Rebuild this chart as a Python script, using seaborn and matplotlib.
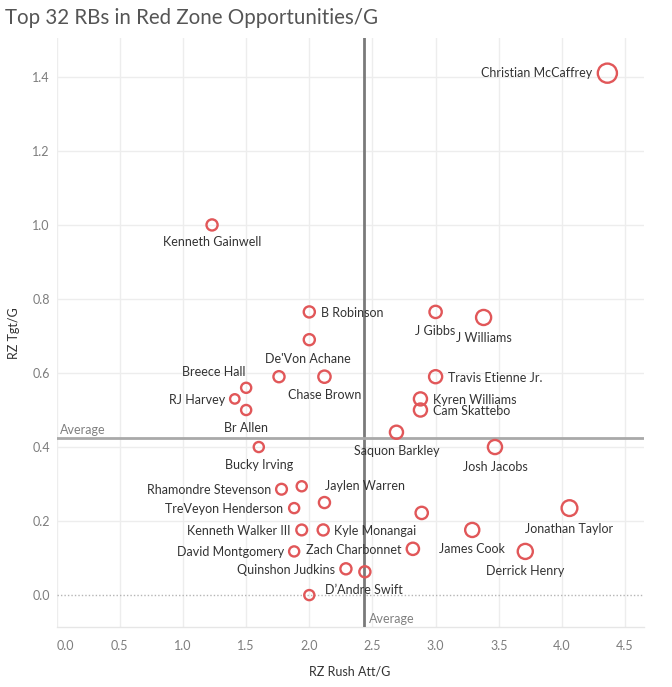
import numpy as np
import pandas as pd
import matplotlib
matplotlib.use("Agg")
import matplotlib.pyplot as plt
import seaborn as sns

# ---------------- data ----------------
players = [
    "Christian McCaffrey", "Kenneth Gainwell", "B Robinson", "J Gibbs", "J Williams",
    "De'Von Achane", "RB 7", "Chase Brown", "Travis Etienne Jr.", "Breece Hall",
    "RJ Harvey", "Kyren Williams", "Br Allen", "Cam Skattebo", "Saquon Barkley",
    "Bucky Irving", "Josh Jacobs", "Rhamondre Stevenson", "RB 19", "Jaylen Warren",
    "TreVeyon Henderson", "RB 22", "Jonathan Taylor", "Kenneth Walker III", "Kyle Monangai",
    "James Cook", "David Montgomery", "Zach Charbonnet", "Derrick Henry", "Quinshon Judkins",
    "D\u2019Andre Swift", "RB 32",
]
rz_rush_att_g = [
    4.36, 1.23, 2.00, 3.00, 3.38,
    2.00, 1.76, 2.12, 3.00, 1.50,
    1.41, 2.88, 1.50, 2.88, 2.69,
    1.60, 3.47, 1.78, 1.94, 2.12,
    1.88, 2.89, 4.06, 1.94, 2.11,
    3.29, 1.88, 2.82, 3.71, 2.29,
    2.44, 2.00,
]
rz_tgt_g = [
    1.41, 1.00, 0.765, 0.765, 0.75,
    0.69, 0.59, 0.59, 0.59, 0.56,
    0.53, 0.53, 0.50, 0.50, 0.44,
    0.40, 0.40, 0.286, 0.294, 0.25,
    0.235, 0.222, 0.235, 0.176, 0.176,
    0.176, 0.118, 0.125, 0.118, 0.071,
    0.063, 0.0,
]
rz_opps = [
    52, 17, 17, 21, 32,
    17, 17, 21, 24, 14,
    12, 24, 14, 24, 24,
    14, 28, 16, 14, 17,
    14, 21, 35, 16, 17,
    28, 14, 21, 32, 17,
    17, 14,
]
shown_labels = [
    "Christian McCaffrey", "Kenneth Gainwell", "B Robinson", "J Gibbs", "J Williams",
    "De'Von Achane", None, "Chase Brown", "Travis Etienne Jr.", "Breece Hall",
    "RJ Harvey", "Kyren Williams", "Br Allen", "Cam Skattebo", "Saquon Barkley",
    "Bucky Irving", "Josh Jacobs", "Rhamondre Stevenson", None, "Jaylen Warren",
    "TreVeyon Henderson", None, "Jonathan Taylor", "Kenneth Walker III", "Kyle Monangai",
    "James Cook", "David Montgomery", "Zach Charbonnet", "Derrick Henry", "Quinshon Judkins",
    "D\u2019Andre Swift", None,
]

# label placement (style): (ha, dx px, dy px downward)
label_place = [
    ("right", -15, 0), ("center", 0, 17.5), ("left", 11.5, 1.5), ("center", 0, 19.5), ("center", 0, 20.5),
    ("center", -1, 19.5), None, ("center", 0, 18.5), ("left", 12.5, 1.5), ("center", -32, -15.5),
    ("right", -9.5, 1), ("left", 12.5, 1), ("center", 0, 17.5), ("left", 12.5, 0.5), ("center", 0, 18.5),
    ("center", 0, 17.5), ("center", 0, 20), ("right", -10.5, 0.5), None, ("left", 0.5, -16.5),
    ("right", -11.5, 1.3), None, ("center", 0, 20.5), ("right", -11.5, 1.5), ("left", 10.5, 1.5),
    ("center", 0, 19.5), ("right", -9.5, 0.5), ("right", -11.5, 1.5), ("center", 0, 20), ("right", -10.5, 1.5),
    ("center", -1, 18), None,
]

df = pd.DataFrame({
    "player": players,
    "RZ Rush Att/G": rz_rush_att_g,
    "RZ Tgt/G": rz_tgt_g,
    "rz_opps": rz_opps,
})

FONT = "Lato"
RED = "#E15759"

W, H = 672, 687
fig = plt.figure(figsize=(W / 100, H / 100), dpi=100)
L, R, B, T = 56.7, 644, 627.3, 38
ax = fig.add_axes([L / W, 1 - B / H, (R - L) / W, (B - T) / H])

sns.scatterplot(
    data=df, x="RZ Rush Att/G", y="RZ Tgt/G", size="rz_opps",
    sizes=(46, 190), size_norm=(12, 52), legend=False, ax=ax,
    color=RED, linewidth=1.7, zorder=5,
)
for coll in ax.collections:
    coll.set_facecolor("none")
    coll.set_edgecolor(RED)

ax.set_xlim(0, 4.65)
ax.set_ylim(-0.087, 1.505)
ax.set_xticks(np.arange(0, 4.51, 0.5))
ax.set_yticks(np.arange(0, 1.41, 0.2))
ax.set_xticklabels([f"{v:.1f}" for v in np.arange(0, 4.51, 0.5)])
ax.set_yticklabels([f"{v:.1f}" for v in np.arange(0, 1.41, 0.2)])
ax.set_xlabel("")
ax.set_ylabel("")

ax.grid(True, color="#ededed", linewidth=1.0, zorder=0)
ax.set_axisbelow(True)
for s in ["top", "right", "left"]:
    ax.spines[s].set_visible(False)
ax.spines["bottom"].set_color("#e6e6e6")
ax.spines["bottom"].set_linewidth(1.0)
ax.tick_params(axis="both", length=0, labelsize=9, labelcolor="#7d7d7d")
ax.tick_params(axis="x", pad=9)
ax.tick_params(axis="y", pad=5)
for lab in ax.get_xticklabels() + ax.get_yticklabels():
    lab.set_fontfamily(FONT)
ax.get_xticklabels()[0].set_horizontalalignment("left")

# zero line dotted
ygl = ax.get_ygridlines()
ygl[0].set_linestyle((0, (1, 1.5)))
ygl[0].set_color("#b5b5b5")

# averages
avg_x = float(np.mean(rz_rush_att_g))
avg_y = float(np.mean(rz_tgt_g))
ax.axvline(avg_x, color="#7a7a7a", linewidth=2.0, zorder=3)
ax.axhline(avg_y, color="#a9a9a9", linewidth=2.0, zorder=3)
ax.annotate("Average", xy=(0, avg_y), xycoords="data", xytext=(3, 8.5),
            textcoords="offset pixels", ha="left", va="center", fontsize=9,
            color="#808080", family=FONT)
ax.annotate("Average", xy=(avg_x, -0.087), xycoords="data", xytext=(5, 8.5),
            textcoords="offset pixels", ha="left", va="center", fontsize=9,
            color="#808080", family=FONT)

# point labels
for xv, yv, lab, pl in zip(rz_rush_att_g, rz_tgt_g, shown_labels, label_place):
    if lab is None:
        continue
    ha, dx, dy = pl
    ax.annotate(lab, xy=(xv, yv), xycoords="data", xytext=(dx, -dy),
                textcoords="offset pixels", ha=ha, va="center", fontsize=9,
                color="#333333", family=FONT, zorder=6)

fig.text(5 / W, 1 - 24 / H, "Top 32 RBs in Red Zone Opportunities/G", ha="left",
         va="baseline", fontsize=14.8, color="#555555", family=FONT, fontweight="normal")
fig.text(350 / W, 1 - 671 / H, "RZ Rush Att/G", ha="center", va="center",
         fontsize=9, color="#333333", family=FONT)
fig.text(14 / W, 1 - 333 / H, "RZ Tgt/G", ha="center", va="center", rotation=90,
         fontsize=9, color="#333333", family=FONT)

fig.savefig("out.png", dpi=100)
